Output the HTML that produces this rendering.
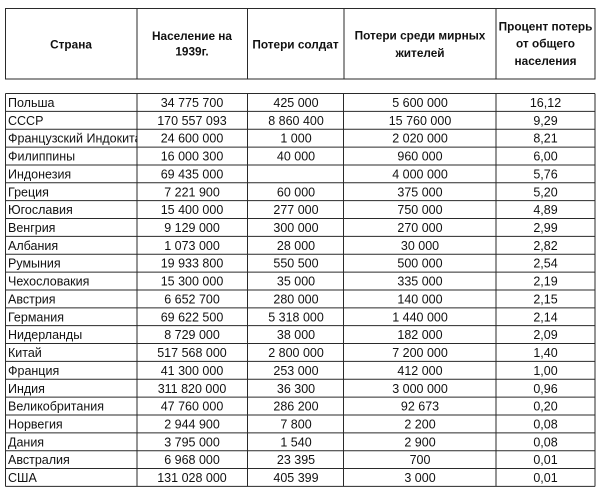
<!DOCTYPE html>
<html>
<head>
<meta charset="utf-8">
<style>
  html, body { margin:0; padding:0; background:#fff; }
  body { width:600px; height:490px; overflow:hidden; }
  svg { display:block; }
  .h { font-family:"Liberation Sans", "DejaVu Sans", sans-serif; font-weight:bold; font-size:11.8px; fill:#111; text-anchor:middle; }
  .t { font-family:"Liberation Sans", "DejaVu Sans", sans-serif; font-size:12.5px; fill:#111; }
  .n { font-family:"Liberation Sans", "DejaVu Sans", sans-serif; font-size:12.5px; fill:#111; text-anchor:middle; }
  .ln { stroke:#2a2a2a; stroke-width:1; fill:none; }
</style>
</head>
<body>
<svg width="600" height="490" viewBox="0 0 600 490" xmlns="http://www.w3.org/2000/svg">
  <defs>
    <clipPath id="c1"><rect x="5" y="90" width="131.5" height="400"/></clipPath>
  </defs>
  <!-- header box -->
  <rect class="ln" x="5.5" y="8.5" width="589.5" height="70.5"/>
  <line class="ln" x1="137" y1="8.5" x2="137" y2="79"/>
  <line class="ln" x1="247.5" y1="8.5" x2="247.5" y2="79"/>
  <line class="ln" x1="344" y1="8.5" x2="344" y2="79"/>
  <line class="ln" x1="496" y1="8.5" x2="496" y2="79"/>

  <text class="h" x="71" y="48.5">Страна</text>
  <text class="h" x="192" y="40">Население на</text>
  <text class="h" x="192" y="55.5">1939г.</text>
  <text class="h" x="295.5" y="48.5">Потери солдат</text>
  <text class="h" x="420" y="39.5">Потери среди мирных</text>
  <text class="h" x="420" y="57">жителей</text>
  <text class="h" x="545.5" y="30.5">Процент потерь</text>
  <text class="h" x="545.5" y="47.5">от общего</text>
  <text class="h" x="545.5" y="65">населения</text>

  <!-- data table grid -->
  <g class="ln">
    <line x1="5.5" y1="93.5" x2="5.5" y2="486.5"/>
    <line x1="137" y1="93.5" x2="137" y2="486.5"/>
    <line x1="247.5" y1="93.5" x2="247.5" y2="486.5"/>
    <line x1="343.5" y1="93.5" x2="343.5" y2="486.5"/>
    <line x1="496" y1="93.5" x2="496" y2="486.5"/>
    <line x1="595" y1="93.5" x2="595" y2="486.5"/>
    <line x1="5.5" y1="93.5" x2="595" y2="93.5"/>
    <line x1="5.5" y1="111.36" x2="595" y2="111.36"/>
    <line x1="5.5" y1="129.22" x2="595" y2="129.22"/>
    <line x1="5.5" y1="147.08" x2="595" y2="147.08"/>
    <line x1="5.5" y1="164.94" x2="595" y2="164.94"/>
    <line x1="5.5" y1="182.8" x2="595" y2="182.8"/>
    <line x1="5.5" y1="200.66" x2="595" y2="200.66"/>
    <line x1="5.5" y1="218.52" x2="595" y2="218.52"/>
    <line x1="5.5" y1="236.38" x2="595" y2="236.38"/>
    <line x1="5.5" y1="254.24" x2="595" y2="254.24"/>
    <line x1="5.5" y1="272.1" x2="595" y2="272.1"/>
    <line x1="5.5" y1="289.96" x2="595" y2="289.96"/>
    <line x1="5.5" y1="307.82" x2="595" y2="307.82"/>
    <line x1="5.5" y1="325.68" x2="595" y2="325.68"/>
    <line x1="5.5" y1="343.54" x2="595" y2="343.54"/>
    <line x1="5.5" y1="361.4" x2="595" y2="361.4"/>
    <line x1="5.5" y1="379.26" x2="595" y2="379.26"/>
    <line x1="5.5" y1="397.12" x2="595" y2="397.12"/>
    <line x1="5.5" y1="414.98" x2="595" y2="414.98"/>
    <line x1="5.5" y1="432.84" x2="595" y2="432.84"/>
    <line x1="5.5" y1="450.7" x2="595" y2="450.7"/>
    <line x1="5.5" y1="468.56" x2="595" y2="468.56"/>
    <line x1="5.5" y1="486.42" x2="595" y2="486.42"/>
  </g>

  <!-- country names -->
  <g class="t" clip-path="url(#c1)">
    <text x="8" y="107">Польша</text>
    <text x="8" y="124.9">СССР</text>
    <text x="8" y="142.7">Французский Индокитай</text>
    <text x="8" y="160.6">Филиппины</text>
    <text x="8" y="178.4">Индонезия</text>
    <text x="8" y="196.3">Греция</text>
    <text x="8" y="214.2">Югославия</text>
    <text x="8" y="232">Венгрия</text>
    <text x="8" y="249.9">Албания</text>
    <text x="8" y="267.7">Румыния</text>
    <text x="8" y="285.6">Чехословакия</text>
    <text x="8" y="303.5">Австрия</text>
    <text x="8" y="321.3">Германия</text>
    <text x="8" y="339.2">Нидерланды</text>
    <text x="8" y="357">Китай</text>
    <text x="8" y="374.9">Франция</text>
    <text x="8" y="392.8">Индия</text>
    <text x="8" y="410.6">Великобритания</text>
    <text x="8" y="428.5">Норвегия</text>
    <text x="8" y="446.3">Дания</text>
    <text x="8" y="464.2">Австралия</text>
    <text x="8" y="482.1">США</text>
  </g>

  <!-- population -->
  <g class="n">
    <text x="192" y="107">34 775 700</text>
    <text x="192" y="124.9">170 557 093</text>
    <text x="192" y="142.7">24 600 000</text>
    <text x="192" y="160.6">16 000 300</text>
    <text x="192" y="178.4">69 435 000</text>
    <text x="192" y="196.3">7 221 900</text>
    <text x="192" y="214.2">15 400 000</text>
    <text x="192" y="232">9 129 000</text>
    <text x="192" y="249.9">1 073 000</text>
    <text x="192" y="267.7">19 933 800</text>
    <text x="192" y="285.6">15 300 000</text>
    <text x="192" y="303.5">6 652 700</text>
    <text x="192" y="321.3">69 622 500</text>
    <text x="192" y="339.2">8 729 000</text>
    <text x="192" y="357">517 568 000</text>
    <text x="192" y="374.9">41 300 000</text>
    <text x="192" y="392.8">311 820 000</text>
    <text x="192" y="410.6">47 760 000</text>
    <text x="192" y="428.5">2 944 900</text>
    <text x="192" y="446.3">3 795 000</text>
    <text x="192" y="464.2">6 968 000</text>
    <text x="192" y="482.1">131 028 000</text>
  </g>

  <!-- soldiers -->
  <g class="n">
    <text x="296" y="107">425 000</text>
    <text x="296" y="124.9">8 860 400</text>
    <text x="296" y="142.7">1 000</text>
    <text x="296" y="160.6">40 000</text>
    <text x="296" y="196.3">60 000</text>
    <text x="296" y="214.2">277 000</text>
    <text x="296" y="232">300 000</text>
    <text x="296" y="249.9">28 000</text>
    <text x="296" y="267.7">550 500</text>
    <text x="296" y="285.6">35 000</text>
    <text x="296" y="303.5">280 000</text>
    <text x="296" y="321.3">5 318 000</text>
    <text x="296" y="339.2">38 000</text>
    <text x="296" y="357">2 800 000</text>
    <text x="296" y="374.9">253 000</text>
    <text x="296" y="392.8">36 300</text>
    <text x="296" y="410.6">286 200</text>
    <text x="296" y="428.5">7 800</text>
    <text x="296" y="446.3">1 540</text>
    <text x="296" y="464.2">23 395</text>
    <text x="296" y="482.1">405 399</text>
  </g>

  <!-- civilians -->
  <g class="n">
    <text x="420" y="107">5 600 000</text>
    <text x="420" y="124.9">15 760 000</text>
    <text x="420" y="142.7">2 020 000</text>
    <text x="420" y="160.6">960 000</text>
    <text x="420" y="178.4">4 000 000</text>
    <text x="420" y="196.3">375 000</text>
    <text x="420" y="214.2">750 000</text>
    <text x="420" y="232">270 000</text>
    <text x="420" y="249.9">30 000</text>
    <text x="420" y="267.7">500 000</text>
    <text x="420" y="285.6">335 000</text>
    <text x="420" y="303.5">140 000</text>
    <text x="420" y="321.3">1 440 000</text>
    <text x="420" y="339.2">182 000</text>
    <text x="420" y="357">7 200 000</text>
    <text x="420" y="374.9">412 000</text>
    <text x="420" y="392.8">3 000 000</text>
    <text x="420" y="410.6">92 673</text>
    <text x="420" y="428.5">2 200</text>
    <text x="420" y="446.3">2 900</text>
    <text x="420" y="464.2">700</text>
    <text x="420" y="482.1">3 000</text>
  </g>

  <!-- percent -->
  <g class="n">
    <text x="545.5" y="107">16,12</text>
    <text x="545.5" y="124.9">9,29</text>
    <text x="545.5" y="142.7">8,21</text>
    <text x="545.5" y="160.6">6,00</text>
    <text x="545.5" y="178.4">5,76</text>
    <text x="545.5" y="196.3">5,20</text>
    <text x="545.5" y="214.2">4,89</text>
    <text x="545.5" y="232">2,99</text>
    <text x="545.5" y="249.9">2,82</text>
    <text x="545.5" y="267.7">2,54</text>
    <text x="545.5" y="285.6">2,19</text>
    <text x="545.5" y="303.5">2,15</text>
    <text x="545.5" y="321.3">2,14</text>
    <text x="545.5" y="339.2">2,09</text>
    <text x="545.5" y="357">1,40</text>
    <text x="545.5" y="374.9">1,00</text>
    <text x="545.5" y="392.8">0,96</text>
    <text x="545.5" y="410.6">0,20</text>
    <text x="545.5" y="428.5">0,08</text>
    <text x="545.5" y="446.3">0,08</text>
    <text x="545.5" y="464.2">0,01</text>
    <text x="545.5" y="482.1">0,01</text>
  </g>
</svg>
</body>
</html>
